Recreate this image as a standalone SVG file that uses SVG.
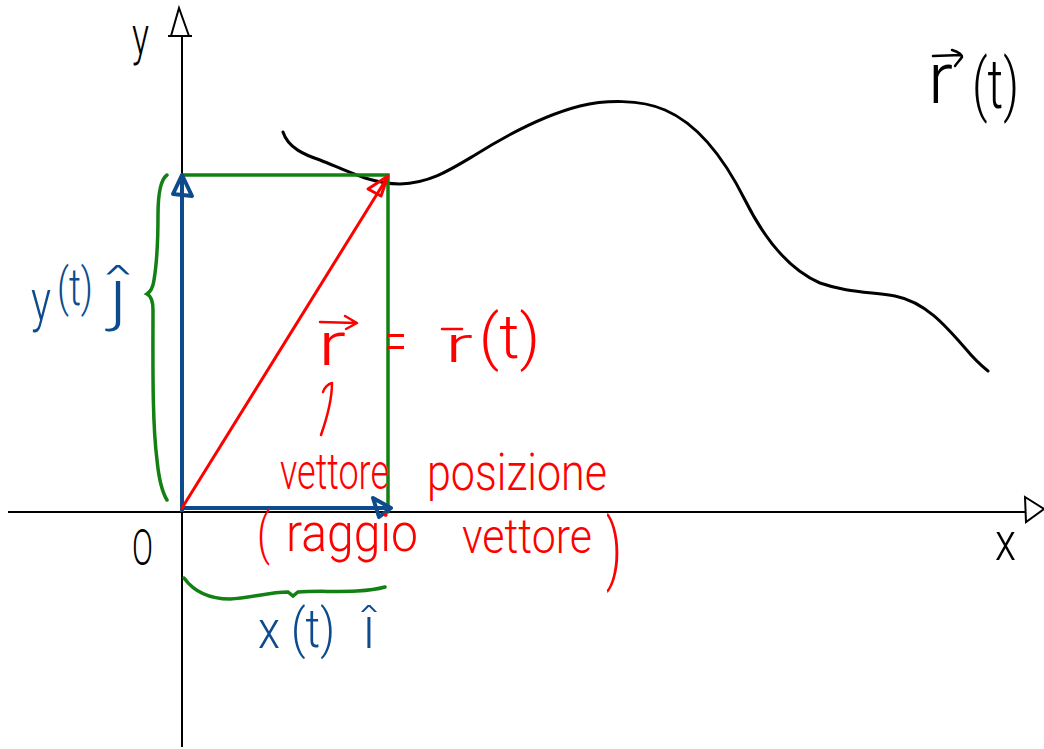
<svg xmlns="http://www.w3.org/2000/svg" width="1044" height="749" viewBox="0 0 1044 749">
<style>
.ax{stroke:#000;stroke-width:2;fill:none}
.curve{stroke:#000;stroke-width:3;fill:none;stroke-linecap:round;stroke-linejoin:round}
.blue{stroke:#0d4b8c;stroke-width:4;fill:none;stroke-linejoin:round}
.green{stroke:#128012;stroke-width:3.5;fill:none;stroke-linecap:round}
.red{stroke:#ff0000;stroke-width:3;fill:none;stroke-linecap:round;stroke-linejoin:round}
.thinred{stroke:#ff0000;stroke-width:2.5;fill:none;stroke-linecap:round;stroke-linejoin:round}
.thinblk{stroke:#000;stroke-width:2.5;fill:none;stroke-linecap:round;stroke-linejoin:round}
text{font-family:"Roboto","Open Sans","Liberation Sans",sans-serif;font-weight:300}
.hat{font-family:"Lato","Open Sans","DejaVu Sans",sans-serif;font-weight:300}
.tb{fill:#000}
.tr{fill:#ff0000}
.tbl{fill:#0d4b8c}
</style>
<rect x="0" y="0" width="1044" height="749" fill="#fff"/>

<g id="axes">
  <line class="ax" x1="182" y1="747" x2="182" y2="36"/>
  <path class="ax" d="M168,36 L192,36 M171,36 L179,8 L189,36"/>
  <line class="ax" x1="8" y1="512" x2="1025" y2="512"/>
  <path class="ax" d="M1025,497 L1026,522 L1044,509 Z"/>
</g>

<g id="axis-labels">
  <text class="tb" x="132" y="54" font-size="54" textLength="17" lengthAdjust="spacingAndGlyphs">y</text>
  <text class="tb" x="132" y="565" font-size="50" textLength="21" lengthAdjust="spacingAndGlyphs">O</text>
  <text class="tb" x="995" y="560" font-size="54" textLength="21" lengthAdjust="spacingAndGlyphs">x</text>
</g>

<g id="trajectory">
  <path class="curve" d="M283,132 C288,148 305,155 320,160 C335,166 350,173 365,178 C378,182 388,184 400,184 C430,183 450,170 475,155 C510,133 545,115 580,106 C605,100 640,99 665,110 C700,125 725,160 745,200 C765,240 790,270 820,283 C845,292 870,292 895,296 C925,302 945,325 965,348 C975,360 983,367 988,371"/>
  <text class="tb" x="928" y="103" font-size="72" textLength="25" lengthAdjust="spacingAndGlyphs">r</text>
  <path class="thinblk" d="M933,56 L961,55 M952,50 C958,52 962,54 962,57 C960,60 957,63 955,66"/>
  <text class="tb" x="972" y="108" font-size="68" textLength="47" lengthAdjust="spacingAndGlyphs">(t)</text>
</g>

<g id="components-box">
  <path class="green" d="M182,175 L388,175 L388,512"/>
</g>

<g id="connectors">
  <line class="blue" x1="182" y1="512" x2="182" y2="176"/>
  <path class="blue" d="M173,194 L182,175 L192,196 Z"/>
  <line class="blue" x1="182" y1="508" x2="390" y2="508"/>
  <path class="blue" d="M373,498 L391,508 L379,517 Z"/>
  <line class="red" x1="182" y1="508" x2="387" y2="178"/>
  <path class="red" d="M388,176 L368,189 L381,196 Z"/>
  <path class="thinred" d="M321,435 C328,415 332,400 332,383 C328,384 324,388 323,392"/>
</g>

<g id="brace-y">
  <path class="green" d="M167,175 C160,180 158,195 158,215 C158,240 157,262 154,280 C153,288 150,292 147,294 C151,296 153,300 153,310 C153,360 152,420 157,460 C159,480 162,492 167,500"/>
  <text class="tbl">
    <tspan x="31" y="320" font-size="58" textLength="20" lengthAdjust="spacingAndGlyphs">y</tspan><tspan x="57" y="305" font-size="52" textLength="36" lengthAdjust="spacingAndGlyphs">(t)</tspan>
  </text>
  <text class="tbl hat" x="108" y="318" font-size="74" textLength="20" lengthAdjust="spacingAndGlyphs">ĵ</text>
</g>

<g id="brace-x">
  <path class="green" d="M184,578 C195,593 210,599 230,599 C250,598 270,592 288,592 L293,596 L298,592 C320,590 360,594 385,587"/>
  <text class="tbl">
    <tspan x="258" y="648" font-size="54" textLength="22" lengthAdjust="spacingAndGlyphs">x</tspan><tspan x="291" y="647" font-size="54" textLength="44" lengthAdjust="spacingAndGlyphs">(t)</tspan>
  </text>
  <text class="tbl hat" x="362" y="648" font-size="62">î</text>
</g>

<g id="position-vector-label">
  <text class="tr">
    <tspan x="318" y="365" font-size="62" textLength="28" lengthAdjust="spacingAndGlyphs">r</tspan><tspan x="384" y="361" font-size="58" textLength="23" lengthAdjust="spacingAndGlyphs">=</tspan><tspan x="445" y="362" font-size="50" textLength="28" lengthAdjust="spacingAndGlyphs">r</tspan><tspan x="479" y="358" font-size="62" textLength="61" lengthAdjust="spacingAndGlyphs">(t)</tspan>
  </text>
  <path class="thinred" d="M320,322 L356,323 M345,316 L357,323 L346,329"/>
  <line class="thinred" x1="442" y1="329" x2="462" y2="329"/>
  <text class="tr">
    <tspan x="280" y="489" font-size="50" textLength="109" lengthAdjust="spacingAndGlyphs">vettore</tspan><tspan x="427" y="490" font-size="52" textLength="180" lengthAdjust="spacingAndGlyphs">posizione</tspan>
  </text>
  <text class="tr">
    <tspan x="257" y="553" font-size="56" textLength="13" lengthAdjust="spacingAndGlyphs">(</tspan><tspan x="286" y="551" font-size="54" textLength="132" lengthAdjust="spacingAndGlyphs">raggio</tspan><tspan x="462" y="553" font-size="48" textLength="130" lengthAdjust="spacingAndGlyphs">vettore</tspan><tspan x="606" y="575" font-size="78" textLength="16" lengthAdjust="spacingAndGlyphs">)</tspan>
  </text>
</g>
</svg>
